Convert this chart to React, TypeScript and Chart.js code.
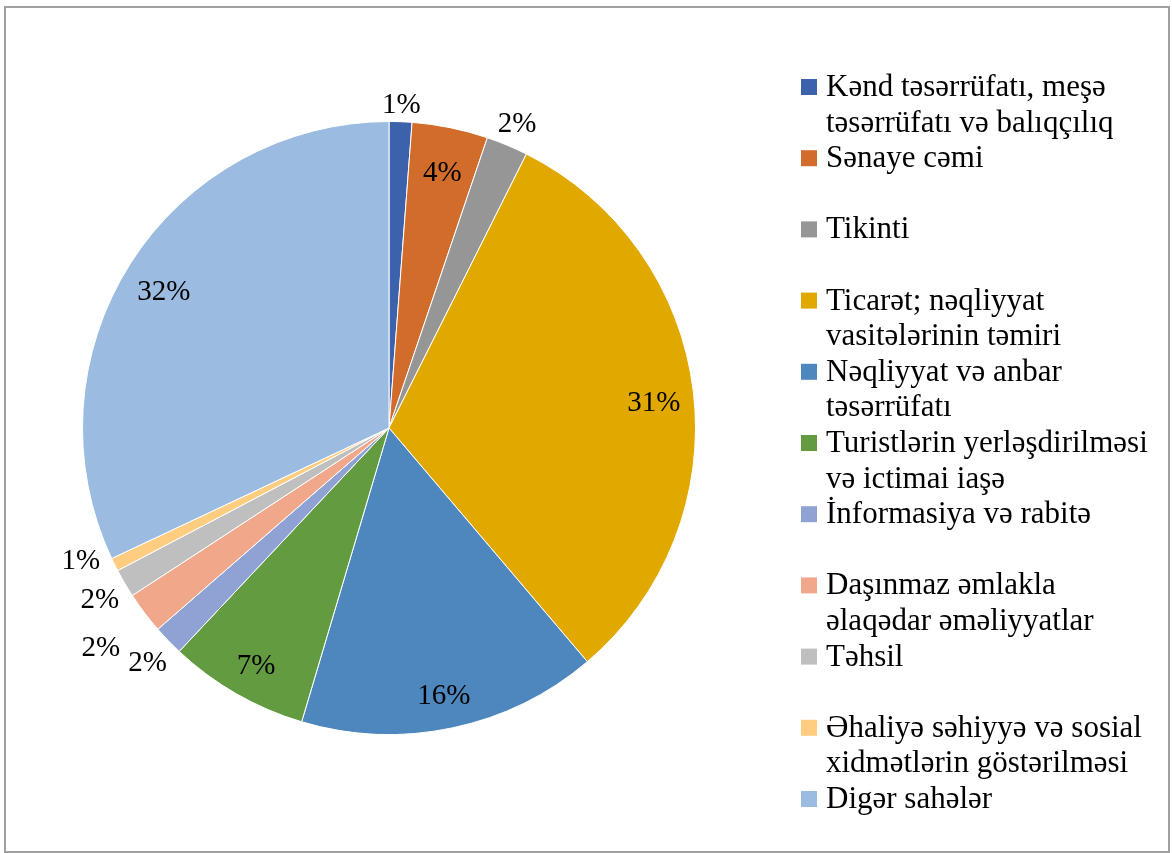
import React, { useEffect, useRef } from "react";
import { Chart, registerables } from "chart.js";

Chart.register(...registerables);

const categories: string[] = [
  "Kənd təsərrüfatı, meşə\ntəsərrüfatı və balıqçılıq",
  "Sənaye cəmi",
  "Tikinti",
  "Ticarət; nəqliyyat\nvasitələrinin təmiri",
  "Nəqliyyat və anbar\ntəsərrüfatı",
  "Turistlərin yerləşdirilməsi\nvə ictimai iaşə",
  "İnformasiya və rabitə",
  "Daşınmaz əmlakla\nəlaqədar əməliyyatlar",
  "Təhsil",
  "Əhaliyə səhiyyə və sosial\nxidmətlərin göstərilməsi",
  "Digər sahələr",
];

const shares: number[] = [1.2, 4.0, 2.2, 31.4, 15.8, 7.4, 1.6, 2.2, 1.5, 0.7, 32.0];

const colors: string[] = [
  "#3D62AC",
  "#D26C2B",
  "#969696",
  "#E1A900",
  "#4E87BE",
  "#629B40",
  "#8FA2D4",
  "#F0A78A",
  "#BFBFBF",
  "#FECD80",
  "#9BBBE0",
];

const FONT = "'Liberation Serif', 'Times New Roman', serif";

const frameAndLegend = {
  id: "frameAndLegend",
  afterDraw(chart: any) {
    const ctx = chart.ctx;
    ctx.save();
    // outer frame
    ctx.strokeStyle = "#A0A0A0";
    ctx.lineWidth = 2;
    ctx.strokeRect(5, 7, 1164, 845);

    // legend
    const boxX = 801;
    const textX = 826;
    const firstBaseline = 96;
    const slot = 71.2;
    const lineH = 35.6;
    ctx.font = `31px ${FONT}`;
    ctx.textBaseline = "alphabetic";
    ctx.textAlign = "left";
    categories.forEach((label, i) => {
      const base = firstBaseline + i * slot;
      ctx.fillStyle = colors[i];
      ctx.fillRect(boxX, base - 17, 16, 16);
      ctx.fillStyle = "#000";
      label.split("\n").forEach((line, j) => {
        ctx.fillText(line, textX, base + j * lineH);
      });
    });
    ctx.restore();
  },
};

const pctLabels = {
  id: "pctLabels",
  afterDatasetsDraw(chart: any) {
    const ctx = chart.ctx;
    const meta = chart.getDatasetMeta(0);
    ctx.save();
    ctx.font = `29px ${FONT}`;
    ctx.fillStyle = "#000";
    ctx.textAlign = "center";
    ctx.textBaseline = "middle";
    const placed: { x: number; y: number; w: number }[] = [];
    const H = 38;
    const overlaps = (x: number, y: number, w: number) =>
      placed.some((p) => Math.abs(p.x - x) < (p.w + w) / 2 + 8 && Math.abs(p.y - y) < H);

    meta.data.forEach((arc: any, i: number) => {
      const { x, y, startAngle, endAngle, outerRadius } = arc.getProps(
        ["x", "y", "startAngle", "endAngle", "outerRadius"],
        true
      );
      const v = shares[i];
      const text = `${Math.round(v)}%`;
      const w = ctx.measureText(text).width;
      const mid = (startAngle + endAngle) / 2;
      if (v >= 3) {
        const r = outerRadius * 0.87;
        ctx.fillText(text, x + r * Math.cos(mid), y + r * Math.sin(mid) + 7);
        return;
      }
      const posAt = (ang: number, extra: number) => {
        const c = Math.cos(ang);
        const s = Math.sin(ang);
        const proj = (w / 2) * Math.abs(c) + 14 * Math.abs(s);
        const r = outerRadius + 5 + proj + extra;
        return { px: x + r * c, py: y + r * s };
      };
      let pos = posAt(mid, 0);
      let found = !overlaps(pos.px, pos.py, w);
      for (let dr = 1; !found && dr <= 30; dr++) {
        const p = posAt(mid, dr);
        if (!overlaps(p.px, p.py, w)) {
          pos = p;
          found = true;
        }
      }
      for (let k = 1; !found && k <= 80; k++) {
        const p = posAt(mid + (k * 0.25 * Math.PI) / 180, 0);
        if (!overlaps(p.px, p.py, w)) {
          pos = p;
          found = true;
        }
      }
      placed.push({ x: pos.px, y: pos.py, w });
      ctx.fillText(text, pos.px, pos.py + 3);
    });
    ctx.restore();
  },
};

export default function App() {
  const canvasRef = useRef<HTMLCanvasElement | null>(null);

  useEffect(() => {
    document.body.style.margin = "0";
    const canvas = canvasRef.current;
    if (!canvas) return;
    const chart = new Chart(canvas, {
      type: "pie",
      data: {
        labels: categories,
        datasets: [
          {
            data: shares,
            backgroundColor: colors,
            borderColor: "#FFFFFF",
            borderWidth: 1,
          },
        ],
      },
      options: {
        responsive: false,
        animation: false,
        devicePixelRatio: 1,
        layout: { padding: { left: 82, top: 121, right: 476, bottom: 118 } },
        plugins: {
          legend: { display: false },
          title: { display: false },
          tooltip: { enabled: false },
        },
      },
      plugins: [pctLabels, frameAndLegend],
    });
    return () => chart.destroy();
  }, []);

  return (
    <div style={{ width: 1172, height: 853, background: "#fff" }}>
      <canvas ref={canvasRef} width={1172} height={853} style={{ display: "block" }} />
    </div>
  );
}
